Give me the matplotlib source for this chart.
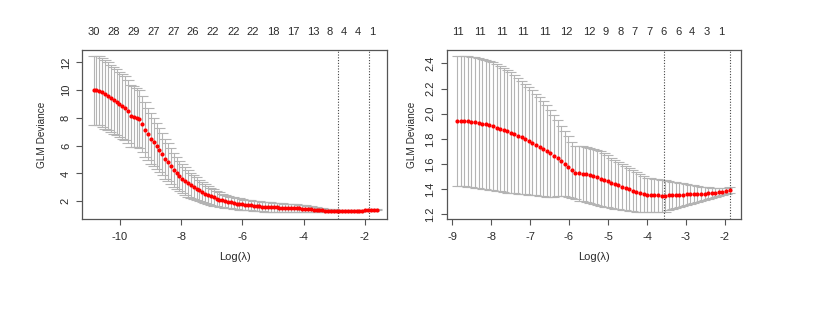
import numpy as np
import matplotlib
matplotlib.use("Agg")
import matplotlib.pyplot as plt

plt.rcParams['font.family'] = ['Liberation Sans', 'DejaVu Sans']

# ---------------- Left panel data ----------------
left_loglam_start = -10.86
left_loglam_end = -1.62
left_mean = [10.01, 10.00, 9.96, 9.84, 9.70, 9.55, 9.42, 9.28, 9.14, 8.98,
             8.83, 8.72, 8.50, 8.14, 8.08, 8.03, 7.90, 7.56, 7.15, 6.85,
             6.50, 6.28, 6.00, 5.72, 5.40, 5.05, 4.82, 4.55, 4.27, 4.02,
             3.82, 3.63, 3.45, 3.28, 3.14, 3.01, 2.90, 2.78, 2.65, 2.55,
             2.45, 2.36, 2.27, 2.19, 2.12, 2.06, 2.01, 1.96, 1.91, 1.86,
             1.83, 1.80, 1.77, 1.74, 1.72, 1.70, 1.68, 1.66, 1.64, 1.62,
             1.60, 1.59, 1.58, 1.56, 1.55, 1.54, 1.53, 1.52, 1.51, 1.50,
             1.50, 1.49, 1.48, 1.47, 1.46, 1.44, 1.42, 1.40, 1.38, 1.36,
             1.35, 1.33, 1.32, 1.31, 1.30, 1.29, 1.28, 1.28, 1.28, 1.29,
             1.29, 1.30, 1.31, 1.32, 1.33, 1.34, 1.35, 1.36, 1.38, 1.40]
left_se = [2.49, 2.49, 2.48, 2.47, 2.46, 2.45, 2.43, 2.41, 2.39, 2.37,
           2.34, 2.31, 2.27, 2.23, 2.19, 2.14, 2.09, 2.03, 1.97, 1.90,
           1.83, 1.75, 1.67, 1.59, 1.51, 1.43, 1.36, 1.29, 1.22, 1.15,
           1.09, 1.04, 0.99, 0.95, 0.91, 0.86, 0.82, 0.78, 0.74, 0.70,
           0.66, 0.62, 0.58, 0.55, 0.52, 0.49, 0.47, 0.45, 0.43, 0.42,
           0.41, 0.40, 0.39, 0.38, 0.37, 0.36, 0.36, 0.35, 0.35, 0.34,
           0.34, 0.33, 0.33, 0.32, 0.32, 0.31, 0.31, 0.30, 0.30, 0.29,
           0.29, 0.28, 0.28, 0.27, 0.26, 0.25, 0.23, 0.21, 0.19, 0.17,
           0.15, 0.14, 0.13, 0.12, 0.11, 0.10, 0.09, 0.09, 0.08, 0.08,
           0.07, 0.07, 0.06, 0.06, 0.06, 0.05, 0.05, 0.05, 0.05, 0.05]
left_top_pos = [-10.86, -10.22, -9.56, -8.91, -8.25, -7.62, -6.96, -6.30,
                -5.66, -4.99, -4.35, -3.68, -3.15, -2.68, -2.22, -1.75]
left_top_lab = ["30", "28", "29", "27", "27", "26", "22", "22",
                "22", "18", "17", "13", "8", "4", "4", "1"]
left_vlines = [-2.875, -1.86]
left_xticks = [-10, -8, -6, -4, -2]
left_yticks = [2, 4, 6, 8, 10, 12]

# ---------------- Right panel data ----------------
right_loglam_start = -8.87
right_loglam_end = -1.88
right_mean = [1.942, 1.942, 1.941, 1.938, 1.935, 1.931, 1.926, 1.920, 1.914, 1.907,
              1.899, 1.890, 1.881, 1.871, 1.860, 1.849, 1.837, 1.824, 1.811, 1.797,
              1.783, 1.769, 1.755, 1.738, 1.722, 1.704, 1.686, 1.665, 1.647, 1.626,
              1.604, 1.580, 1.555, 1.532, 1.525, 1.523, 1.520, 1.512, 1.503, 1.494,
              1.484, 1.473, 1.462, 1.451, 1.440, 1.430, 1.419, 1.408, 1.398, 1.388,
              1.378, 1.369, 1.360, 1.355, 1.353, 1.351, 1.350, 1.349, 1.348, 1.350,
              1.351, 1.353, 1.355, 1.357, 1.358, 1.359, 1.360, 1.361, 1.362, 1.364,
              1.367, 1.370, 1.373, 1.376, 1.380, 1.386, 1.393]
right_se = [0.519, 0.519, 0.519, 0.519, 0.518, 0.518, 0.518, 0.517, 0.515, 0.512,
            0.508, 0.504, 0.499, 0.493, 0.487, 0.479, 0.470, 0.461, 0.450, 0.439,
            0.427, 0.416, 0.404, 0.391, 0.378, 0.365, 0.345, 0.325, 0.302, 0.280,
            0.258, 0.240, 0.222, 0.212, 0.215, 0.217, 0.218, 0.218, 0.219, 0.219,
            0.217, 0.212, 0.206, 0.200, 0.194, 0.188, 0.182, 0.176, 0.170, 0.163,
            0.157, 0.150, 0.143, 0.137, 0.132, 0.130, 0.128, 0.127, 0.126, 0.115,
            0.108, 0.102, 0.095, 0.089, 0.083, 0.077, 0.071, 0.065, 0.059, 0.052,
            0.047, 0.042, 0.037, 0.033, 0.029, 0.025, 0.023]
right_top_pos = [-8.84, -8.29, -7.73, -7.17, -6.62, -6.06, -5.49, -5.05,
                 -4.68, -4.31, -3.94, -3.57, -3.20, -2.84, -2.47, -2.09]
right_top_lab = ["11", "11", "11", "11", "11", "12", "12", "9",
                 "8", "7", "7", "6", "6", "4", "3", "1"]
right_vlines = [-3.56, -1.88]
right_xticks = [-9, -8, -7, -6, -5, -4, -3, -2]
right_yticks = [1.2, 1.4, 1.6, 1.8, 2.0, 2.2, 2.4]

W, H = 818, 315
fig = plt.figure(figsize=(W / 100, H / 100), dpi=100)
fig.patch.set_facecolor("white")

TXT = "#2a2a2a"
FRAME = "#555555"
BAR = "#b4b4b4"
FS = 8


def panel(rect, start, end, mean, se, top_pos, top_lab, vlines,
          xticks, yticks, xlim, ylim, ytickfmt, ylab_x):
    ax = fig.add_axes(rect)
    mean = np.asarray(mean)
    se = np.asarray(se)
    x = np.linspace(start, end, len(mean))
    up = mean + se
    lo = mean - se
    barw = 0.02 * (end - start)
    ax.vlines(x, lo, up, color=BAR, lw=0.8, zorder=1)
    ax.hlines(up, x - barw, x + barw, color=BAR, lw=0.8, zorder=1)
    ax.hlines(lo, x - barw, x + barw, color=BAR, lw=0.8, zorder=1)
    ax.plot(x, mean, "o", color="red", ms=3.0, mec="none", zorder=3)
    for v in vlines:
        ax.axvline(v, color="#444444", lw=0.8, ls=(0, (1, 1.5)), zorder=2)
    ax.set_xlim(*xlim)
    ax.set_ylim(*ylim)
    ax.set_xticks(xticks)
    ax.set_xticklabels([str(t) for t in xticks])
    ax.set_yticks(yticks)
    ax.set_yticklabels([ytickfmt(t) for t in yticks], rotation=90, va="center")
    ax.tick_params(axis="both", direction="out", length=4, width=0.8,
                   colors=FRAME, labelcolor=TXT, labelsize=FS)
    ax.tick_params(axis="x", pad=5)
    ax.tick_params(axis="y", pad=4)
    for sp in ax.spines.values():
        sp.set_color(FRAME)
        sp.set_linewidth(0.9)
    sec = ax.secondary_xaxis("top")
    sec.set_xticks(top_pos)
    sec.set_xticklabels(top_lab)
    sec.tick_params(axis="x", length=0, pad=9, labelsize=FS, labelcolor=TXT)
    sec.spines["top"].set_visible(False)
    ax.set_xlabel("Log(λ)", fontsize=FS, color=TXT)
    ax.xaxis.set_label_coords(0.5, -(257 - 219) / 169, transform=ax.transAxes)
    ax.xaxis.label.set_va("center")
    ax.set_ylabel("GLM Deviance", fontsize=7.2, color=TXT)
    ax.yaxis.set_label_coords(ylab_x, 0.5, transform=ax.transAxes)
    ax.yaxis.label.set_va("center")
    return ax


axL = panel([82 / W, 1 - 219 / H, 305 / W, 169 / H],
            left_loglam_start, left_loglam_end, left_mean, left_se,
            left_top_pos, left_top_lab, left_vlines,
            left_xticks, left_yticks, (-11.24, -1.28), (0.72, 12.9),
            lambda t: "%d" % t, (42 - 82) / 305)
axR = panel([446.7 / W, 1 - 219 / H, 294 / W, 169 / H],
            right_loglam_start, right_loglam_end, right_mean, right_se,
            right_top_pos, right_top_lab, right_vlines,
            right_xticks, right_yticks, (-9.136, -1.597), (1.163, 2.506),
            lambda t: "%.1f" % t, (412 - 446.7) / 294)

fig.savefig("out.png", dpi=100, facecolor="white")
